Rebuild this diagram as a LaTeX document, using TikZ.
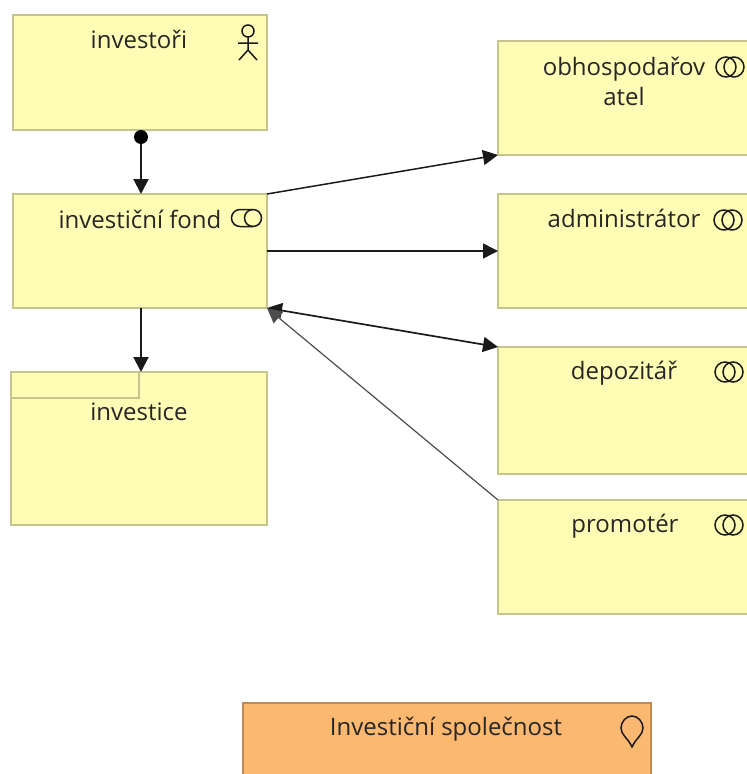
\documentclass[tikz,border=0pt]{standalone}
\usepackage{fontspec}
\setmainfont{Open Sans}
\usetikzlibrary{arrows.meta}
\definecolor{elemfill}{HTML}{FFFDB5}
\definecolor{elemline}{HTML}{C4C48C}
\definecolor{orangefill}{HTML}{FBB871}
\definecolor{orangeline}{HTML}{C08A55}
\definecolor{inkline}{HTML}{1A1A1A}
\tikzset{
  x=1pt,y=-1pt,
  element/.style={draw=elemline,fill=elemfill,line width=1.8pt,minimum width=#1,inner sep=0pt,outer sep=0pt,anchor=north west},
  lab/.style={inner sep=0pt,font=\fontsize{24}{30}\selectfont,text=black!85,align=center},
  conn/.style={draw=inkline,line width=2pt,-{Triangle[length=15pt,width=15pt]}},
  thinconn/.style={draw=inkline,line width=1.5pt,-{Triangle[length=15pt,width=15pt]}},
  icon/.style={draw=inkline,line width=1.5pt,fill=none},
}
\newcommand{\collab}[2]{%
  \draw[icon] (#1-4,#2) circle[radius=10pt];
  \draw[icon] (#1+4,#2) circle[radius=10pt];
}
\begin{document}
\begin{tikzpicture}
\useasboundingbox (0,0) rectangle (747,774);
\clip (0,0) rectangle (747,774);
% boxes
\node[element=254pt,minimum height=115pt] (inv) at (13,15) {};
\node[element=254pt,minimum height=114pt] (fond) at (13,194) {};
\node[element=256pt,minimum height=153pt] (ice) at (11,372) {};
\node[element=252pt,minimum height=114pt] (obh) at (498,41) {};
\node[element=252pt,minimum height=114pt] (adm) at (498,194) {};
\node[element=252pt,minimum height=127pt] (dep) at (498,347) {};
\node[element=252pt,minimum height=114pt] (pro) at (498,500) {};
\node[draw=orangeline,fill=orangefill,line width=1.8pt,minimum width=408pt,minimum height=90pt,inner sep=0pt,outer sep=0pt,anchor=north west] (spol) at (243,703) {};
% tab of investice
\draw[draw=elemline,line width=1.6pt] (11,398) -- (139,398) -- (139,372);
% labels
\node[lab] (tinv) at (139,39.5) {investoři};
\node[lab] (tfond) at (140,219) {investiční fond};
\node[lab] (tice) at (139,412) {investice};
\node[lab] (tobh) at (624,81) {obhospodařov\\atel};
\node[lab] (tadm) at (624,218.5) {administrátor};
\node[lab] (tdep) at (624,373) {depozitář};
\node[lab] (tpro) at (625,526) {promotér};
\node[lab] (tspol) at (446,729) {Investiční společnost};
% connectors
\coordinate (invs) at (141,130);
\coordinate (fonds1) at (141,194);
\coordinate (fonds2) at (141,308);
\coordinate (ices) at (141,372);
\draw[conn] (invs) -- (fonds1);
\fill[black] (141,137) circle[radius=7pt];
\draw[conn] (fonds2) -- (ices);
\draw[thinconn] (fond.north east) -- (obh.south west);
\draw[thinconn] (fond.east) -- (adm.west |- fond.east);
\draw[draw=inkline,line width=1.7pt,{Triangle[length=15pt,width=15pt]}-{Triangle[length=15pt,width=15pt]}] (fond.south east) -- (dep.north west);
\draw[thinconn,draw=black!70,line width=1.2pt] (pro.north west) -- (fond.south east);
% actor icon
\draw[icon] (248,31) circle[radius=6pt];
\draw[icon] (248,37) -- (248,50) (238,43) -- (258,43) (239,60) -- (248,50) -- (257,60);
% service icon
\draw[icon] (240,209.5) -- (253,209.5) arc[start angle=90,end angle=-90,radius=8.5pt] -- (240,226.5) arc[start angle=270,end angle=90,radius=8.5pt] -- cycle;
\draw[icon] (253,209.5) arc[start angle=90,end angle=270,radius=8.5pt];
% collaboration icons
\collab{730}{67}
\collab{728}{220}
\collab{729}{372}
\collab{729}{525}
% goal-like pin icon
\draw[icon] (632,747) .. controls (628,738) and (621,735) .. (621,728) .. controls (621,722) and (626,716) .. (632,716) .. controls (638,716) and (643,722) .. (643,728) .. controls (643,735) and (636,738) .. (632,747) -- cycle;
\end{tikzpicture}
\end{document}
